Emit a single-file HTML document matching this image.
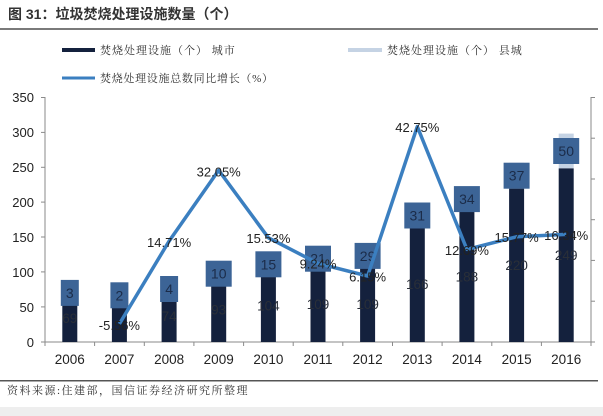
<!DOCTYPE html>
<html><head><meta charset="utf-8"><style>
html,body{margin:0;padding:0;background:#fff;}
body{width:603px;height:416px;overflow:hidden;position:relative;}
svg{display:block;}
.t{font-family:"Liberation Sans","Noto Sans CJK SC",sans-serif;}
.cj{font-family:"Liberation Serif","Noto Serif CJK SC",serif;}
</style></head><body>
<svg width="603" height="416" viewBox="0 0 603 416" xmlns="http://www.w3.org/2000/svg">
<rect x="0" y="0" width="603" height="416" fill="#fff"/>
<!-- title -->
<text x="8" y="19" class="t" font-size="14" font-weight="bold" fill="#333">图 31：垃圾焚烧处理设施数量（个）</text>
<rect x="0" y="28" width="598" height="2" fill="#7a7a7a"/>
<!-- legend -->
<rect x="62" y="48" width="33" height="4" fill="#14213d"/>
<text x="100" y="54" class="cj" font-size="11" letter-spacing="1" fill="#333">焚烧处理设施（个） 城市</text>
<rect x="348" y="48" width="34" height="4" fill="#c5d3e4"/>
<text x="387" y="54" class="cj" font-size="11" letter-spacing="1" fill="#333">焚烧处理设施（个） 县城</text>
<rect x="62" y="76.5" width="33" height="3" fill="#3b7fc0"/>
<text x="100" y="82" class="cj" font-size="11" letter-spacing="0.7" fill="#333">焚烧处理设施总数同比增长（%）</text>

<!-- axes -->
<g stroke="#8a8a8a" stroke-width="1" fill="none">
<line x1="45" y1="97" x2="45" y2="342"/>
<line x1="45" y1="342" x2="591" y2="342"/>
<line x1="591" y1="97" x2="591" y2="342"/>
<!-- left ticks -->
<line x1="41" y1="97.5" x2="45" y2="97.5"/>
<line x1="41" y1="132.4" x2="45" y2="132.4"/>
<line x1="41" y1="167.3" x2="45" y2="167.3"/>
<line x1="41" y1="202.1" x2="45" y2="202.1"/>
<line x1="41" y1="237" x2="45" y2="237"/>
<line x1="41" y1="271.9" x2="45" y2="271.9"/>
<line x1="41" y1="306.9" x2="45" y2="306.9"/>
<line x1="41" y1="342" x2="45" y2="342"/>
<!-- right ticks -->
<line x1="591" y1="97.5" x2="595" y2="97.5"/>
<line x1="591" y1="138.2" x2="595" y2="138.2"/>
<line x1="591" y1="179" x2="595" y2="179"/>
<line x1="591" y1="219.7" x2="595" y2="219.7"/>
<line x1="591" y1="260.4" x2="595" y2="260.4"/>
<line x1="591" y1="301.2" x2="595" y2="301.2"/>
<line x1="591" y1="342" x2="595" y2="342"/>
<!-- x ticks -->
<line x1="45" y1="342" x2="45" y2="346"/>
<line x1="94.6" y1="342" x2="94.6" y2="346"/>
<line x1="144.3" y1="342" x2="144.3" y2="346"/>
<line x1="193.9" y1="342" x2="193.9" y2="346"/>
<line x1="243.6" y1="342" x2="243.6" y2="346"/>
<line x1="293.2" y1="342" x2="293.2" y2="346"/>
<line x1="342.8" y1="342" x2="342.8" y2="346"/>
<line x1="392.5" y1="342" x2="392.5" y2="346"/>
<line x1="442.1" y1="342" x2="442.1" y2="346"/>
<line x1="491.8" y1="342" x2="491.8" y2="346"/>
<line x1="541.4" y1="342" x2="541.4" y2="346"/>
<line x1="591" y1="342" x2="591" y2="346"/>
</g>
<!-- y labels -->
<g class="t" font-size="13" fill="#222" text-anchor="end">
<text x="34" y="102">350</text>
<text x="34" y="137">300</text>
<text x="34" y="172">250</text>
<text x="34" y="207">200</text>
<text x="34" y="242">150</text>
<text x="34" y="277">100</text>
<text x="34" y="312">50</text>
<text x="34" y="347">0</text>
</g>
<!-- x labels -->
<g class="t" font-size="13.5" fill="#222" text-anchor="middle">
<text x="69.8" y="364">2006</text>
<text x="119.4" y="364">2007</text>
<text x="169.1" y="364">2008</text>
<text x="218.7" y="364">2009</text>
<text x="268.4" y="364">2010</text>
<text x="318" y="364">2011</text>
<text x="367.6" y="364">2012</text>
<text x="417.3" y="364">2013</text>
<text x="466.9" y="364">2014</text>
<text x="516.6" y="364">2015</text>
<text x="566.2" y="364">2016</text>
</g>

<!-- county bars (light) -->
<g fill="#c5d3e4">
<rect x="62.3" y="291.8" width="15" height="2.1"/>
<rect x="111.9" y="294.6" width="15" height="1.4"/>
<rect x="161.6" y="287.6" width="15" height="2.8"/>
<rect x="211.2" y="270.2" width="15" height="7"/>
<rect x="260.9" y="259" width="15" height="10.5"/>
<rect x="310.5" y="251.4" width="15" height="14.6"/>
<rect x="360.1" y="245.8" width="15" height="20.2"/>
<rect x="409.8" y="204.7" width="15" height="21.6"/>
<rect x="459.4" y="187.2" width="15" height="23.7"/>
<rect x="509.1" y="162.8" width="15" height="25.8"/>
<rect x="558.7" y="133.6" width="15" height="34.8"/>
</g>
<!-- city bars (dark) -->
<g fill="#14213d">
<rect x="62.3" y="293.9" width="15" height="48.1"/>
<rect x="111.9" y="296" width="15" height="46"/>
<rect x="161.6" y="290.4" width="15" height="51.6"/>
<rect x="211.2" y="277.2" width="15" height="64.8"/>
<rect x="260.9" y="269.5" width="15" height="72.5"/>
<rect x="310.5" y="266" width="15" height="76"/>
<rect x="360.1" y="266" width="15" height="76"/>
<rect x="409.8" y="226.3" width="15" height="115.7"/>
<rect x="459.4" y="210.9" width="15" height="131.1"/>
<rect x="509.1" y="188.6" width="15" height="153.4"/>
<rect x="558.7" y="168.4" width="15" height="173.6"/>
</g>
<!-- county label boxes -->
<g fill="#3c6496">
<rect x="60.8" y="279.9" width="18" height="26"/>
<rect x="110.4" y="282.3" width="18" height="26"/>
<rect x="160.1" y="276" width="18" height="26"/>
<rect x="205.7" y="260.7" width="26" height="26"/>
<rect x="255.4" y="251.3" width="26" height="26"/>
<rect x="305" y="245.7" width="26" height="26"/>
<rect x="354.6" y="242.9" width="26" height="26"/>
<rect x="404.3" y="202.5" width="26" height="26"/>
<rect x="453.9" y="186.1" width="26" height="26"/>
<rect x="503.6" y="162.7" width="26" height="26"/>
<rect x="553.2" y="138" width="26" height="26"/>
</g>
<!-- county labels -->
<g class="t" font-size="14" fill="#1b2c49" text-anchor="middle">
<text x="69.8" y="297.9">3</text>
<text x="119.4" y="300.3">2</text>
<text x="169.1" y="294">4</text>
<text x="218.7" y="278.7">10</text>
<text x="268.4" y="269.3">15</text>
<text x="318" y="263.7">21</text>
<text x="367.6" y="260.9">29</text>
<text x="417.3" y="220.5">31</text>
<text x="466.9" y="204.1">34</text>
<text x="516.6" y="180.7">37</text>
<text x="566.2" y="156">50</text>
</g>
<!-- line -->
<polyline fill="none" stroke="#3b7fc0" stroke-width="3.5" stroke-linejoin="round" points="119.4,323.9 169.1,241.1 218.7,170.3 268.4,237.8 318,263.4 367.6,276 417.3,126.6 466.9,249.4 516.6,236.8 566.2,234.4"/>
<!-- city labels -->
<g class="t" font-size="13.5" fill="#2a2f38" text-anchor="middle">
<text x="69.8" y="323">69</text>
<text x="169.1" y="321">74</text>
<text x="218.7" y="314.5">93</text>
<text x="268.4" y="310.5">104</text>
<text x="318" y="309">109</text>
<text x="367.6" y="309">109</text>
<text x="417.3" y="289">166</text>
<text x="466.9" y="281.5">188</text>
<text x="516.6" y="270">220</text>
<text x="566.2" y="260">249</text>
</g>
<!-- pct labels -->
<g class="t" font-size="13" fill="#222" text-anchor="middle">
<text x="119.4" y="330">-5.56%</text>
<text x="169.1" y="247">14.71%</text>
<text x="218.7" y="176.5">32.05%</text>
<text x="268.4" y="243">15.53%</text>
<text x="318" y="268.5">9.24%</text>
<text x="367.6" y="281.5">6.15%</text>
<text x="417.3" y="132">42.75%</text>
<text x="466.9" y="255">12.69%</text>
<text x="516.6" y="242">15.77%</text>
<text x="566.2" y="240">16.34%</text>
</g>

<!-- footer -->
<rect x="0" y="380" width="598" height="1.5" fill="#555"/>
<text x="7" y="394" class="cj" font-size="11" letter-spacing="1.5" fill="#333">资料来源:住建部，国信证券经济研究所整理</text>
<rect x="0" y="407" width="603" height="9" fill="#eeeeee"/>
</svg>
</body></html>
